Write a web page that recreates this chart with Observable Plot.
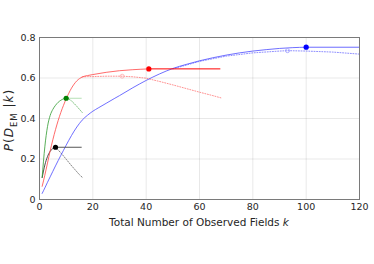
<!DOCTYPE html>
<html>
<head>
<meta charset="utf-8">
<script src="https://cdn.jsdelivr.net/npm/d3@7"></script>
<script src="https://cdn.jsdelivr.net/npm/@observablehq/plot@0.6"></script>
<style>
  html, body { margin: 0; padding: 0; background: #fff; }
  #chart { width: 374px; height: 264px; }
</style>
</head>
<body>
<div id="chart"></div>
<script>
// ---- data ----
const xTicks = [0, 20, 40, 60, 80, 100, 120];
const yTicks = [0, 0.2, 0.4, 0.6, 0.8];

// black series
const blackK = [1, 2, 3, 4, 5, 6];
const blackP = [0.108, 0.17, 0.212, 0.238, 0.252, 0.258];
const blackDotK = [6, 7, 8, 9, 10, 11, 12, 13, 14, 15, 16];
const blackDotP = [0.258, 0.245, 0.23, 0.215, 0.199, 0.183, 0.167, 0.152, 0.137, 0.122, 0.11];

// green series
const greenK = [1, 2, 3, 4, 5, 6, 7, 8, 9, 10];
const greenP = [0.11, 0.26, 0.36, 0.415, 0.445, 0.465, 0.48, 0.49, 0.497, 0.5];
const greenDotK = [10, 11, 12, 13, 14, 15, 16];
const greenDotP = [0.5, 0.496, 0.487, 0.474, 0.46, 0.445, 0.43];

// red series
const redK = [1, 2, 3, 4, 5, 6, 7, 8, 9, 10, 11, 12, 13, 14, 15, 16, 18, 20, 25, 30, 35, 41];
const redP = [0.065, 0.12, 0.18, 0.24, 0.295, 0.345, 0.39, 0.43, 0.465, 0.497, 0.525, 0.55, 0.57, 0.586, 0.597, 0.605, 0.612, 0.617, 0.628, 0.636, 0.641, 0.645];
const redDotK = [16, 18, 20, 25, 31, 35, 40, 45, 50, 55, 60, 65, 68];
const redDotP = [0.605, 0.607, 0.607, 0.609, 0.609, 0.606, 0.599, 0.583, 0.566, 0.548, 0.53, 0.513, 0.502];

// blue series
const blueK = [1, 2, 3, 4, 5, 6, 7, 8, 9, 10, 12, 14, 15, 16, 18, 20, 22, 25, 28, 30, 35, 40, 45, 50, 55, 60, 65, 70, 75, 80, 85, 90, 95, 100];
const blueP = [0.03, 0.057, 0.085, 0.112, 0.139, 0.166, 0.192, 0.218, 0.243, 0.268, 0.316, 0.358, 0.376, 0.392, 0.416, 0.436, 0.452, 0.475, 0.498, 0.513, 0.552, 0.588, 0.62, 0.647, 0.667, 0.685, 0.7, 0.713, 0.724, 0.733, 0.74, 0.746, 0.75, 0.752];
const blueDotK = [50, 60, 70, 80, 90, 93, 100, 110, 120];
const blueDotP = [0.645, 0.682, 0.708, 0.724, 0.733, 0.735, 0.733, 0.728, 0.718];

// optimum markers and their horizontal extensions
const bestNames = ["black", "green", "red", "blue"];
const bestK = [6, 10, 41, 100];
const bestP = [0.258, 0.5, 0.645, 0.752];
const bestEnd = [16, 16, 68, 120];

// hollow markers on dotted curves
const hollowNames = ["red", "blue"];
const hollowK = [31, 93];
const hollowP = [0.609, 0.735];

// ---- styles ----
const lineColor = {black: "#222222", green: "#2e9a2e", red: "#ff4444", blue: "#4a4aff"};
const dotLineColor = {black: "#555555", green: "#4aa84a", red: "#ff7070", blue: "#6a6aff"};
const ruleColor = {black: "#555555", green: "#b5e0b5", red: "#ff0000", blue: "#6b6bff"};
const markColor = {black: "#000000", green: "#008000", red: "#ff0000", blue: "#0000ff"};
const hollowColor = {red: "#ffaaaa", blue: "#9a9aff"};

const toRows = (ks, ps) => ks.map((k, i) => ({k, p: ps[i]}));
const best = bestNames.map((name, i) => ({name, k: bestK[i], p: bestP[i], end: bestEnd[i]}));
const hollow = hollowNames.map((name, i) => ({name, k: hollowK[i], p: hollowP[i]}));

const solid = [
  ["black", blackK, blackP], ["green", greenK, greenP],
  ["red", redK, redP], ["blue", blueK, blueP]
];
const dotted = [
  ["black", blackDotK, blackDotP], ["green", greenDotK, greenDotP],
  ["red", redDotK, redDotP], ["blue", blueDotK, blueDotP]
];

const chart = Plot.plot({
  width: 374,
  height: 264,
  marginLeft: 39,
  marginRight: 15,
  marginTop: 37,
  marginBottom: 65,
  style: {fontFamily: "DejaVu Sans", fontSize: "9.5px", color: "#262626", background: "#ffffff"},
  x: {domain: [0, 120], label: null},
  y: {domain: [0, 0.8], label: null},
  marks: [
    Plot.gridX(xTicks, {stroke: "#000", strokeOpacity: 0.09}),
    Plot.gridY(yTicks, {stroke: "#000", strokeOpacity: 0.09}),
    Plot.axisX(xTicks, {anchor: "bottom", tickSize: 0, tickPadding: 4, label: null, tickFormat: d => String(d)}),
    Plot.axisY(yTicks, {anchor: "left", tickSize: 0, tickPadding: 4, label: null, tickFormat: d => d === 0 ? "0" : d.toFixed(1)}),
    ...dotted.map(([name, ks, ps]) => Plot.line(toRows(ks, ps), {
      x: "k", y: "p", stroke: dotLineColor[name], strokeWidth: 0.9, strokeDasharray: "1,1.6", strokeOpacity: 0.85
    })),
    ...solid.map(([name, ks, ps]) => Plot.line(toRows(ks, ps), {
      x: "k", y: "p", stroke: lineColor[name], strokeWidth: 0.8, curve: "monotone-x"
    })),
    Plot.ruleY(best, {y: "p", x1: "k", x2: "end", stroke: d => ruleColor[d.name], strokeWidth: 1}),
    Plot.dot(hollow, {x: "k", y: "p", r: 2, stroke: d => hollowColor[d.name], strokeWidth: 0.8, fill: "none"}),
    Plot.dot(best, {x: "k", y: "p", r: 2.6, fill: d => markColor[d.name], stroke: "none"}),
    Plot.frame({stroke: "#7a7a7a", strokeWidth: 1})
  ]
});

document.getElementById("chart").appendChild(chart);

// axis titles (real text, with italics and subscript)
const svg = d3.select(chart);
const font = "DejaVu Sans";

const xl = svg.append("text")
  .attr("x", 199).attr("y", 225.5)
  .attr("text-anchor", "middle")
  .attr("font-family", font).attr("font-size", "10.5px").attr("fill", "#262626");
xl.append("tspan").text("Total Number of Observed Fields ");
xl.append("tspan").attr("font-style", "italic").text("k");

const yl = svg.append("text")
  .attr("transform", "translate(13,120) rotate(-90)")
  .attr("text-anchor", "middle")
  .attr("letter-spacing", "1px")
  .attr("font-family", font).attr("font-size", "12px").attr("fill", "#262626");
yl.append("tspan").attr("font-style", "italic").text("P");
yl.append("tspan").text("(");
yl.append("tspan").attr("font-style", "italic").text("D");
yl.append("tspan").attr("font-size", "8.5px").attr("dy", "3.5").text("EM");
yl.append("tspan").attr("dy", "-3.5").text(" |");
yl.append("tspan").attr("font-style", "italic").text("k");
yl.append("tspan").text(")");
</script>
</body>
</html>
